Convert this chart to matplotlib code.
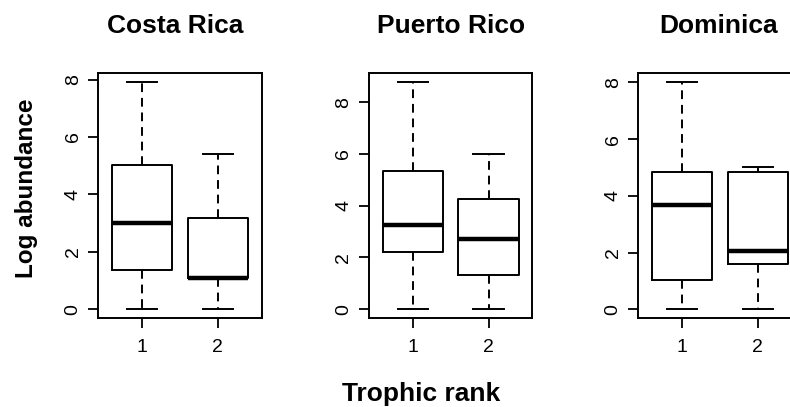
import matplotlib
matplotlib.use("Agg")
import matplotlib.pyplot as plt

plt.rcParams['font.family'] = ['Liberation Sans', 'DejaVu Sans']

sites = ["Costa Rica", "Puerto Rico", "Dominica"]
ranks = [1, 2]
y_ticks = [0, 2, 4, 6, 8]

# five-number summaries per site, one entry per trophic rank
whis_lo = [[0.0, 0.0], [0.0, 0.0], [0.0, 0.0]]
q1 = [[1.37, 1.10], [2.20, 1.34], [1.04, 1.59]]
median = [[2.99, 1.10], [3.26, 2.73], [3.69, 2.04]]
q3 = [[5.01, 3.18], [5.33, 4.27], [4.83, 4.83]]
whis_hi = [[7.90, 5.42], [8.77, 6.02], [8.00, 5.03]]

W, H = 790, 407
fig = plt.figure(figsize=(W / 100, H / 100), dpi=100)

lefts = [98.3, 369.0, 638.3]
ax_w, ax_top, ax_bot = 163.4, 73.3, 318.3
title_x = [175, 451, 719]

box_lw = 1.4
tick_fs = 14
for k, site in enumerate(sites):
    ax = fig.add_axes([lefts[k] / W, (H - ax_bot) / H, ax_w / W, (ax_bot - ax_top) / H])
    stats = []
    for j in range(len(ranks)):
        stats.append(dict(med=median[k][j], q1=q1[k][j], q3=q3[k][j],
                          whislo=whis_lo[k][j], whishi=whis_hi[k][j], fliers=[]))
    ax.bxp(stats, positions=ranks, widths=0.8, capwidths=0.4, showfliers=False,
           boxprops=dict(color='black', linewidth=box_lw),
           whiskerprops=dict(color='black', linewidth=box_lw, linestyle=(0, (4.5, 3))),
           capprops=dict(color='black', linewidth=box_lw),
           medianprops=dict(color='black', linewidth=3.2, solid_capstyle='butt'))

    # R-style 4% padding around the data range
    lo = min(whis_lo[k])
    hi = max(whis_hi[k])
    pad = (hi - lo) * 0.04
    ax.set_ylim(lo - pad, hi + pad)
    ax.set_xlim(0.42, 2.58)
    ax.set_xticks(ranks)
    ax.set_xticklabels([str(r) for r in ranks], fontsize=tick_fs)
    ax.set_yticks(y_ticks)
    ax.set_yticklabels([str(v) for v in y_ticks], fontsize=tick_fs,
                       rotation=90, va='center')
    ax.tick_params(axis='both', direction='out', length=7, width=1.3, colors='black')
    ax.tick_params(axis='x', pad=8)
    ax.tick_params(axis='y', pad=5)
    for sp in ax.spines.values():
        sp.set_linewidth(box_lw)
    fig.text(title_x[k] / W, (H - 33) / H, site, ha='center', va='baseline',
             fontsize=19, fontweight='bold')

fig.text(33 / W, (H - 188.5) / H, "Log abundance", rotation=90, rotation_mode='anchor',
         ha='center', va='baseline', fontsize=17.5, fontweight='bold')
fig.text(421.5 / W, (H - 401) / H, "Trophic rank", ha='center', va='baseline',
         fontsize=19, fontweight='bold')

fig.savefig("out.png", dpi=100)
